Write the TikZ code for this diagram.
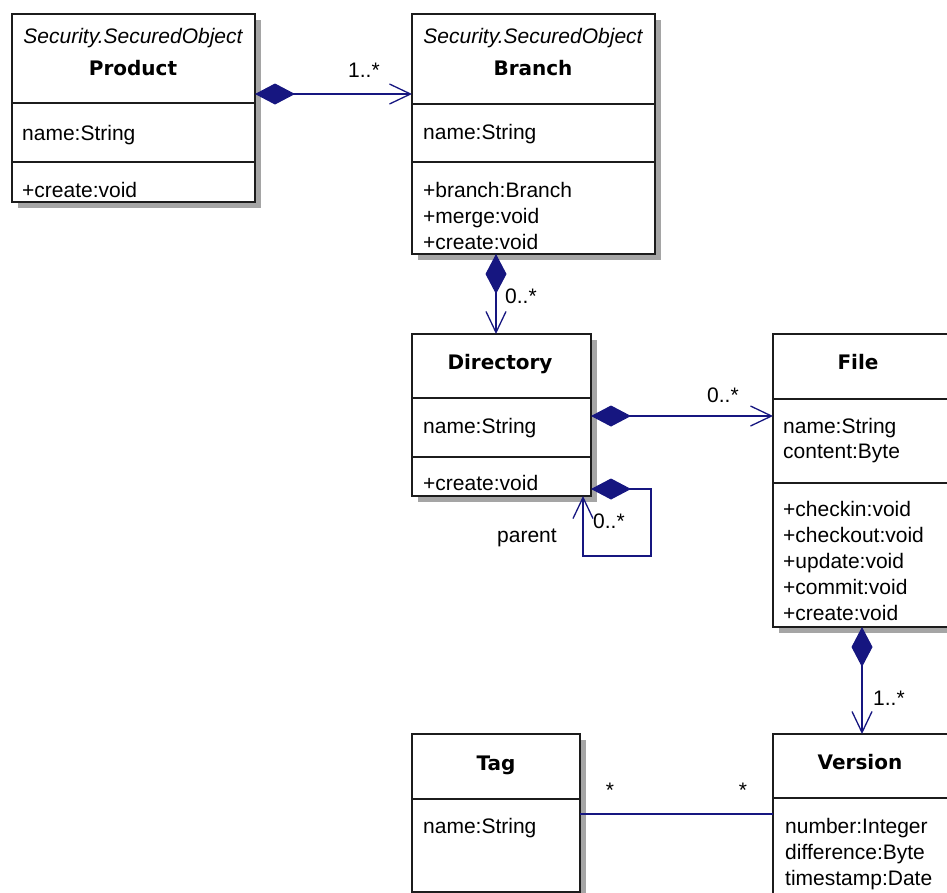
\documentclass[tikz,border=0pt]{standalone}
\usepackage{fontspec}
\setmainfont{Liberation Sans}
\newfontfamily\classtitlefont{DejaVu Sans}
\usetikzlibrary{arrows.meta,shadows,calc}
\definecolor{navy}{RGB}{22,22,128}
\definecolor{edge}{RGB}{28,28,28}
\definecolor{shade}{RGB}{165,165,165}
\begin{document}
\begin{tikzpicture}[x=1pt,y=-1pt,
  font=\fontsize{21}{26}\selectfont,
  classbox/.style={draw=edge, line width=1.6pt, fill=white, anchor=north west,
    inner sep=0pt, outer sep=0pt,
    drop shadow={shadow xshift=6pt, shadow yshift=-6pt, fill=shade, opacity=1}},
  sep/.style={draw=edge, line width=1.6pt},
  txt/.style={anchor=base west, inner sep=0pt},
  title/.style={anchor=base, inner sep=0pt, font=\classtitlefont\fontsize{20}{26}\selectfont\bfseries},
  stereo/.style={anchor=base, inner sep=0pt, font=\fontsize{21}{26}\selectfont\itshape},
  mult/.style={anchor=base west, inner sep=0pt},
  comp/.style={draw=navy, line width=1.6pt,
    {Diamond[length=40pt,width=21pt,fill=navy,line width=1pt]}-{Straight Barb[length=21pt,width=20pt,line width=1.3pt]}},
  assoc/.style={draw=navy, line width=1.6pt},
]
\useasboundingbox (0,0) rectangle (947,892);
\clip (0,0) rectangle (947,892);

% ---------- classes ----------
\node[classbox, minimum width=243pt, minimum height=188pt] (prod) at (12,14) {};
\draw[sep] ($(prod.north west)+(0,89)$) -- ($(prod.north east)+(0,89)$);
\draw[sep] ($(prod.north west)+(0,148)$) -- ($(prod.north east)+(0,148)$);
\node[stereo] (prodst) at (133,43) {Security.SecuredObject};
\node[title] (prodname) at (133,75) {Product};
\node[txt] (proda1) at (22,140) {name:String};
\node[txt] (prodm1) at (22,197) {+create:void};

\node[classbox, minimum width=243pt, minimum height=240pt] (branch) at (412,14) {};
\draw[sep] ($(branch.north west)+(0,90)$) -- ($(branch.north east)+(0,90)$);
\draw[sep] ($(branch.north west)+(0,148)$) -- ($(branch.north east)+(0,148)$);
\node[stereo] (branchst) at (533,43) {Security.SecuredObject};
\node[title] (branchname) at (533,75) {Branch};
\node[txt] (brancha1) at (423,139) {name:String};
\node[txt] (branchm1) at (423,197) {+branch:Branch};
\node[txt] (branchm2) at (423,223) {+merge:void};
\node[txt] (branchm3) at (423,249) {+create:void};

\node[classbox, minimum width=179pt, minimum height=162pt] (dir) at (412,334) {};
\draw[sep] ($(dir.north west)+(0,64)$) -- ($(dir.north east)+(0,64)$);
\draw[sep] ($(dir.north west)+(0,123)$) -- ($(dir.north east)+(0,123)$);
\node[title] (dirname) at (500,369) {Directory};
\node[txt] (dira1) at (423,433) {name:String};
\node[txt] (dirm1) at (423,490) {+create:void};

\node[classbox, minimum width=200pt, minimum height=293pt] (file) at (773,334) {};
\draw[sep] ($(file.north west)+(0,65)$) -- ($(file.north east)+(0,65)$);
\draw[sep] ($(file.north west)+(0,149)$) -- ($(file.north east)+(0,149)$);
\node[title] (filename) at (858,369) {File};
\node[txt] (filea1) at (783,433) {name:String};
\node[txt] (filea2) at (783,458) {content:Byte};
\node[txt] (filem1) at (783,516) {+checkin:void};
\node[txt] (filem2) at (783,542) {+checkout:void};
\node[txt] (filem3) at (783,568) {+update:void};
\node[txt] (filem4) at (783,594) {+commit:void};
\node[txt] (filem5) at (783,620) {+create:void};

\node[classbox, minimum width=168pt, minimum height=158pt] (tag) at (412,734) {};
\draw[sep] ($(tag.north west)+(0,65)$) -- ($(tag.north east)+(0,65)$);
\node[title] (tagname) at (496,770) {Tag};
\node[txt] (taga1) at (423,833) {name:String};

\node[classbox, minimum width=200pt, minimum height=200pt] (ver) at (773,734) {};
\draw[sep] ($(ver.north west)+(0,64)$) -- ($(ver.north east)+(0,64)$);
\node[title] (vername) at (860,769) {Version};
\node[txt] (vera1) at (785,833) {number:Integer};
\node[txt] (vera2) at (785,859) {difference:Byte};
\node[txt] (vera3) at (785,885) {timestamp:Date};

% ---------- associations ----------
\draw[comp] ($(prod.north east)+(0,80)$) -- ($(branch.north west)+(0,80)$);
\draw[comp] ($(branch.south west)+(84,0)$) -- ($(dir.north west)+(84,0)$);
\draw[comp] ($(dir.north east)+(0,82)$) -- ($(file.north west)+(0,82)$);
\draw[comp] ($(dir.south east)+(0,-7)$) -| ($(dir.south east)+(60,60)$)
  -| ($(dir.south east)+(-8,0)$);
\draw[comp] ($(file.south west)+(89,0)$) -- ($(ver.north west)+(89,0)$);
\draw[assoc] ($(tag.north east)+(0,80)$) -- ($(ver.north west)+(0,80)$);

% ---------- multiplicities and roles ----------
\node[mult] (m1) at (348,77) {1..*};
\node[mult] (m2) at (505,303) {0..*};
\node[mult] (m3) at (707,402) {0..*};
\node[mult] (m4) at (593,528) {0..*};
\node[mult] (role) at (497,542) {parent};
\node[mult] (m5) at (873,705) {1..*};
\node[anchor=base, inner sep=0pt] (m6) at (610,797) {*};
\node[anchor=base, inner sep=0pt] (m7) at (743,797) {*};
\end{tikzpicture}
\end{document}
